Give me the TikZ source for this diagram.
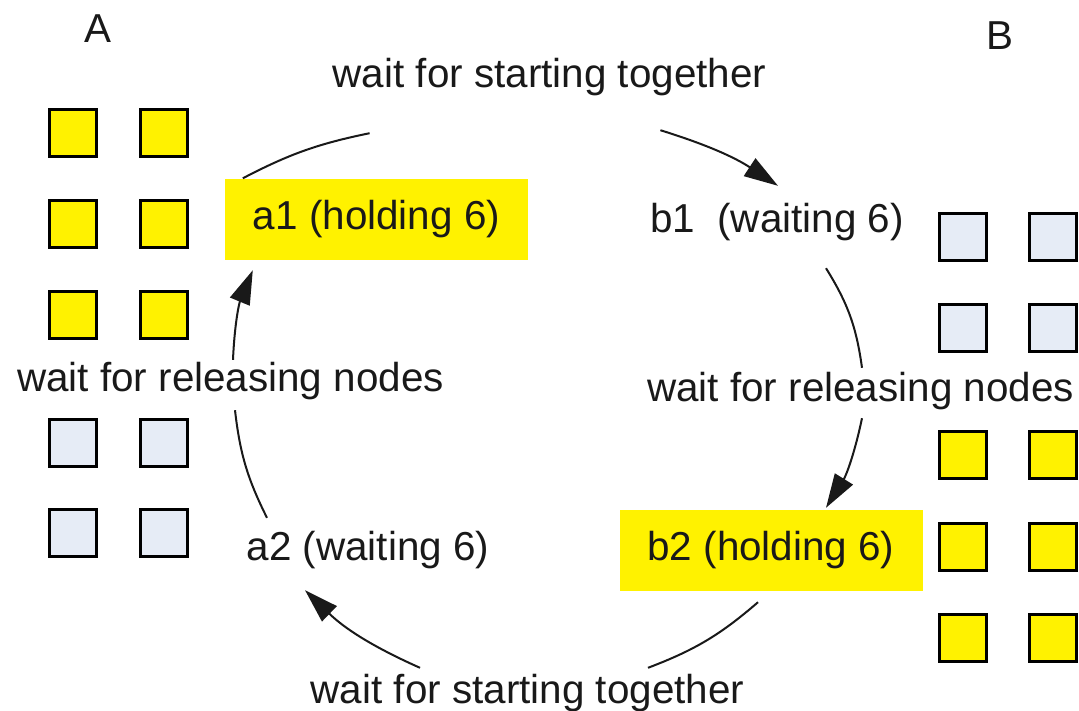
\documentclass[tikz,border=0pt]{standalone}
\usepackage{fontspec}
\setmainfont{Liberation Sans}
\usetikzlibrary{arrows.meta}
\definecolor{idlegray}{RGB}{230,236,246}
\begin{document}
\begin{tikzpicture}[x=1pt,y=1pt,
  lbl/.style={inner sep=0pt, text height=30pt, text depth=9pt, text=black!90,
              font=\fontsize{40.4}{48}\selectfont},
  hold/.style={lbl, fill=yellow, minimum width=303pt, minimum height=81pt},
  cell/.style={draw=black, line width=2.5pt, minimum size=47pt, inner sep=0pt},
  busy/.style={cell, fill=yellow},
  idle/.style={cell, fill=idlegray},
  link/.style={line width=2pt, draw=black!90},
  flow/.style={link, -{Triangle[length=34pt,width=21pt]}}]
\useasboundingbox (0,0) rectangle (1079,-710);

% cluster A: six held cells, four free cells
\foreach \r/\y in {1/133,2/224,3/315} {
  \node[busy] (Aa\r) at (73,-\y) {};
  \node[busy] (Ab\r) at (164,-\y) {};
}
\foreach \r/\y in {4/443,5/533} {
  \node[idle] (Aa\r) at (73,-\y) {};
  \node[idle] (Ab\r) at (164,-\y) {};
}
% cluster B: four free cells, six held cells
\foreach \r/\y in {1/237,2/328} {
  \node[idle] (Ba\r) at (963,-\y) {};
  \node[idle] (Bb\r) at (1053,-\y) {};
}
\foreach \r/\y in {3/455,4/547,5/638} {
  \node[busy] (Ba\r) at (963,-\y) {};
  \node[busy] (Bb\r) at (1053,-\y) {};
}

% titles
\node[lbl, anchor=base] (A) at (98,-42) {A};
\node[lbl, anchor=base] (B) at (1000,-49) {B};

% states and transitions
\node[lbl]  (top) at (549.5,-77)  {wait for starting together};
\node[hold] (a1)  at (376.5,-219) {a1 (holding 6)};
\node[lbl]  (b1)  at (777,-222)   {b1\ \ (waiting 6)};
\node[lbl]  (lr)  at (230.5,-381) {wait for releasing nodes};
\node[lbl]  (rr)  at (860.5,-391) {wait for releasing nodes};
\node[lbl]  (a2)  at (368,-550)   {a2 (waiting 6)};
\node[hold] (b2)  at (771,-550)   {b2 (holding 6)};
\node[lbl]  (bot) at (527.5,-692.5) {wait for starting together};

% the cycle
\draw[link] ([xshift=18pt]a1.north west) to[bend left=8]
            ([shift={(37pt,-36.5pt)}]top.south west);
\draw[flow] ([shift={(-106pt,-33.5pt)}]top.south east) to[bend left=8]
            ([shift={(1pt,16.5pt)}]b1.north);
\draw[link] ([shift={(49pt,-26.5pt)}]b1.south) to[bend left=12]
            ([shift={(1.5pt,3.5pt)}]rr.north);
\draw[flow] ([shift={(1.5pt,-7.5pt)}]rr.south) to[bend left=10]
            ([shift={(55pt,1.5pt)}]b2.north);
\draw[link] ([shift={(-13pt,-11.5pt)}]b2.south) to[bend left=10]
            ([shift={(120.5pt,5pt)}]bot.north);
\draw[flow] ([shift={(-107.5pt,5pt)}]bot.north) to[bend left=10]
            ([shift={(-63pt,-20.5pt)}]a2.south);
\draw[link] ([shift={(-101pt,12.5pt)}]a2.north) to[bend left=10]
            ([shift={(4.5pt,-9.5pt)}]lr.south);
\draw[flow] ([shift={(2.5pt,1.5pt)}]lr.north) to[bend left=10]
            ([shift={(28pt,-10.5pt)}]a1.south west);
\end{tikzpicture}
\end{document}
